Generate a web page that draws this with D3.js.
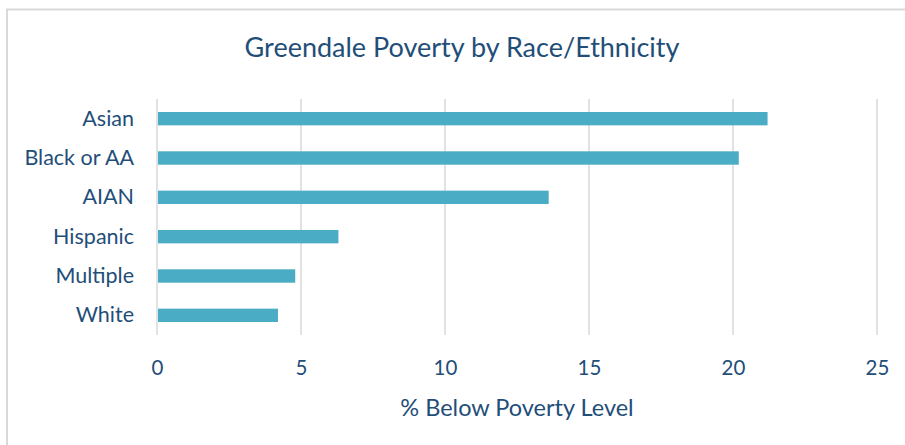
<!DOCTYPE html>
<html>
<head>
<meta charset="utf-8">
<script src="https://cdn.jsdelivr.net/npm/d3@7"></script>
<style>
  html, body { margin: 0; padding: 0; background: #ffffff; }
  svg { display: block; }
  text { font-family: Lato, "Open Sans", sans-serif; }
</style>
</head>
<body>
<svg id="chart" width="905" height="445"></svg>
<script>
// Poverty rate by race/ethnicity, Greendale
const categories = ["Asian", "Black or AA", "AIAN", "Hispanic", "Multiple", "White"];
const povertyPct = [21.2, 20.2, 13.6, 6.3, 4.8, 4.2];
const xTicks = [0, 5, 10, 15, 20, 25];
const chartTitle = "Greendale Poverty by Race/Ethnicity";
const xAxisTitle = "% Below Poverty Level";

const textColor = "#1F4E79";
const barColor = "#4BACC6";
const gridColor = "#D9D9D9";

const svg = d3.select("#chart");

// outer chart frame (extends past the right and bottom edges)
svg.append("rect")
  .attr("x", 7).attr("y", 9.5)
  .attr("width", 920).attr("height", 460)
  .attr("fill", "#ffffff")
  .attr("stroke", gridColor)
  .attr("stroke-width", 2);

const plot = { left: 157, right: 877, top: 99, bottom: 335 };

const x = d3.scaleLinear().domain([0, 25]).range([plot.left, plot.right]);
const y = d3.scaleBand().domain(categories)
  .range([plot.top, plot.bottom])
  .paddingInner(0.66).paddingOuter(0.33);

// vertical gridlines
svg.append("g").selectAll("line")
  .data(xTicks)
  .join("line")
  .attr("x1", d => x(d)).attr("x2", d => x(d))
  .attr("y1", plot.top).attr("y2", plot.bottom)
  .attr("stroke", gridColor)
  .attr("stroke-width", 1.5);

// bars
svg.append("g").selectAll("rect")
  .data(categories.map((c, i) => ({ c, v: povertyPct[i] })))
  .join("rect")
  .attr("x", x(0) + 1)
  .attr("y", d => y(d.c))
  .attr("width", d => x(d.v) - x(0) - 1)
  .attr("height", y.bandwidth())
  .attr("fill", barColor);

// x axis tick labels
const xAxis = d3.axisBottom(x).tickValues(xTicks).tickSize(0).tickPadding(0);
const gx = svg.append("g")
  .attr("transform", `translate(0, 360)`)
  .call(xAxis);
gx.select(".domain").remove();
gx.selectAll("text")
  .attr("fill", textColor)
  .attr("font-size", 20.5)
  .attr("font-family", "Lato, sans-serif")
  .attr("dy", "0.71em");

// category labels
const yAxis = d3.axisLeft(y).tickSize(0).tickPadding(0);
const gy = svg.append("g")
  .attr("transform", `translate(134, 0)`)
  .call(yAxis);
gy.select(".domain").remove();
gy.selectAll("text")
  .attr("fill", textColor)
  .attr("font-size", 21.5)
  .attr("font-family", "Lato, sans-serif");

// chart title
svg.append("text")
  .attr("x", 462).attr("y", 57)
  .attr("text-anchor", "middle")
  .attr("fill", textColor)
  .attr("font-size", 27)
  .text(chartTitle);

// x axis title
svg.append("text")
  .attr("x", (plot.left + plot.right) / 2).attr("y", 416)
  .attr("text-anchor", "middle")
  .attr("fill", textColor)
  .attr("font-size", 23.5)
  .text(xAxisTitle);
</script>
</body>
</html>
